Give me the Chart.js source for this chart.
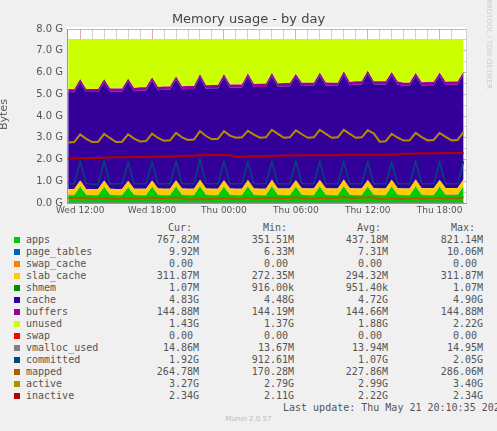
<!DOCTYPE html>
<html><head><meta charset="utf-8">
<script src="https://cdn.jsdelivr.net/npm/chart.js@4"></script>
<style>
body{margin:0;background:#f0f0f0;width:497px;height:431px;overflow:hidden;position:relative;font-family:"DejaVu Sans",sans-serif}
#c{position:absolute;left:0;top:0}
.t{position:absolute;color:#555}
#leg{position:absolute;left:0;top:222px;font-family:"DejaVu Sans Mono",monospace;font-size:10px;color:#555;line-height:12px}
.row{position:relative;height:12px;white-space:pre}
.sw{position:absolute;left:14px;top:3px;width:6px;height:6px}
.nm{position:absolute;left:26px}
.v{position:absolute;text-align:right}
</style></head><body>
<canvas id="c" width="497" height="220"></canvas>
<div class="t" style="left:0;width:497px;top:11px;text-align:center;font-size:13px;color:#444">Memory usage - by day</div>
<div class="t" style="left:-12px;top:108px;font-size:11px;transform:rotate(-90deg)">Bytes</div>
<div class="t" style="left:424px;top:60px;font-size:7px;color:#ccc;transform:rotate(90deg);white-space:nowrap;width:130px">RRDTOOL / TOBI OETIKER</div>
<div id="leg"></div>
<div class="t" style="left:0;width:497px;top:415px;text-align:center;font-size:7px;color:#bbb">Munin 2.0.57</div>
<script>
const hours=[11,11.5,12,12.5,13,13.5,14,14.5,15,15.5,16,16.5,17,17.5,18,18.5,19,19.5,20,20.5,21,21.5,22,22.5,23,23.5,24,24.5,25,25.5,26,26.5,27,27.5,28,28.5,29,29.5,30,30.5,31,31.5,32,32.5,33,33.5,34,34.5,35,35.5,36,36.5,37,37.5,38,38.5,39,39.5,40,40.5,41,41.5,42,42.5,43,43.5,44];
const xTickLabels={12:"Wed 12:00",18:"Wed 18:00",24:"Thu 00:00",30:"Thu 06:00",36:"Thu 12:00",42:"Thu 18:00"};
const apps=[0.37,0.36,0.75,0.37, 0.36,0.36,0.74,0.37, 0.36,0.36,0.72,0.37, 0.36,0.36,0.74,0.37, 0.36,0.36,0.75,0.37, 0.36,0.36,0.76,0.37, 0.36,0.36,0.74,0.37, 0.36,0.36,0.75,0.37, 0.36,0.36,0.76,0.37, 0.36,0.36,0.74,0.37, 0.36,0.36,0.75,0.37, 0.36,0.36,0.76,0.37, 0.36,0.36,0.74,0.37, 0.36,0.36,0.75,0.37, 0.36,0.36,0.76,0.37, 0.36,0.36,0.74,0.37, 0.37,0.37,0.77];
const page_tables=[0.007,0.007,0.009,0.007,0.007,0.007,0.009,0.007,0.007,0.007,0.009,0.007,0.007,0.007,0.009,0.007,0.007,0.007,0.009,0.007,0.007,0.007,0.009,0.007,0.007,0.007,0.009,0.007,0.007,0.007,0.009,0.007,0.007,0.007,0.009,0.007,0.007,0.007,0.009,0.007,0.007,0.007,0.009,0.007,0.007,0.007,0.009,0.007,0.007,0.007,0.009,0.007,0.007,0.007,0.009,0.007,0.007,0.007,0.009,0.007,0.007,0.007,0.009,0.007,0.007,0.007,0.010];
const swap_cache=[0,0,0,0,0,0,0,0,0,0,0,0,0,0,0,0,0,0,0,0,0,0,0,0,0,0,0,0,0,0,0,0,0,0,0,0,0,0,0,0,0,0,0,0,0,0,0,0,0,0,0,0,0,0,0,0,0,0,0,0,0,0,0,0,0,0,0];
const slab_cache=[0.27,0.27,0.28,0.27, 0.28,0.28,0.28,0.28, 0.28,0.28,0.29,0.28, 0.29,0.29,0.29,0.29, 0.29,0.29,0.29,0.29, 0.29,0.29,0.30,0.29, 0.29,0.29,0.30,0.29, 0.29,0.29,0.30,0.29, 0.29,0.29,0.30,0.29, 0.30,0.30,0.30,0.30, 0.30,0.30,0.30,0.30, 0.30,0.30,0.31,0.30, 0.30,0.30,0.31,0.30, 0.30,0.30,0.31,0.30, 0.30,0.30,0.31,0.30, 0.31,0.31,0.31,0.31, 0.31,0.31,0.31];
const shmem=[0.001,0.001,0.001,0.001,0.001,0.001,0.001,0.001,0.001,0.001,0.001,0.001,0.001,0.001,0.001,0.001,0.001,0.001,0.001,0.001,0.001,0.001,0.001,0.001,0.001,0.001,0.001,0.001,0.001,0.001,0.001,0.001,0.001,0.001,0.001,0.001,0.001,0.001,0.001,0.001,0.001,0.001,0.001,0.001,0.001,0.001,0.001,0.001,0.001,0.001,0.001,0.001,0.001,0.001,0.001,0.001,0.001,0.001,0.001,0.001,0.001,0.001,0.001,0.001,0.001,0.001,0.001];
const cache=[4.45,4.45,4.50,4.45, 4.45,4.45,4.52,4.46, 4.47,4.47,4.55,4.48, 4.52,4.52,4.58,4.52, 4.55,4.55,4.62,4.56, 4.58,4.58,4.70,4.60, 4.62,4.62,4.72,4.63, 4.65,4.65,4.75,4.66, 4.68,4.68,4.76,4.68, 4.70,4.70,4.74,4.70, 4.72,4.72,4.78,4.72, 4.72,4.72,4.82,4.74, 4.78,4.78,4.88,4.78, 4.78,4.78,4.80,4.76, 4.72,4.72,4.75,4.73, 4.74,4.74,4.78,4.74, 4.75,4.75,4.80];
const buffers=[0.144,0.144,0.144,0.144,0.144,0.144,0.144,0.144,0.144,0.144,0.145,0.145,0.145,0.145,0.145,0.145,0.145,0.145,0.145,0.145,0.145,0.145,0.145,0.145,0.145,0.145,0.145,0.145,0.145,0.145,0.145,0.145,0.145,0.145,0.145,0.145,0.145,0.145,0.145,0.145,0.145,0.145,0.145,0.145,0.145,0.145,0.145,0.145,0.145,0.145,0.145,0.145,0.145,0.145,0.145,0.145,0.145,0.145,0.145,0.145,0.145,0.145,0.145,0.145,0.145,0.145,0.145];
const unused=[2.26,2.27,1.82,2.25, 2.27,2.27,1.81,2.26, 2.26,2.26,1.80,2.24, 2.17,2.17,1.76,2.16, 2.14,2.14,1.70,2.13, 2.11,2.11,1.59,2.09, 2.07,2.07,1.58,2.06, 2.04,2.04,1.54,2.03, 2.01,2.01,1.53,2.00, 1.98,1.98,1.56,1.98, 1.96,1.96,1.50,1.96, 1.96,1.96,1.46,1.94, 1.90,1.90,1.40,1.90, 1.90,1.90,1.48,1.92, 1.96,1.96,1.54,1.95, 1.93,1.93,1.50,1.93, 1.92,1.92,1.47];
const swap=[0,0,0,0,0,0,0,0,0,0,0,0,0,0,0,0,0,0,0,0,0,0,0,0,0,0,0,0,0,0,0,0,0,0,0,0,0,0,0,0,0,0,0,0,0,0,0,0,0,0,0,0,0,0,0,0,0,0,0,0,0,0,0,0,0,0,0];
const vmalloc_used=[0.014,0.014,0.014,0.014,0.014,0.014,0.014,0.014,0.014,0.014,0.014,0.014,0.014,0.014,0.014,0.014,0.014,0.014,0.014,0.014,0.014,0.014,0.014,0.014,0.014,0.014,0.014,0.014,0.014,0.014,0.014,0.014,0.014,0.014,0.014,0.014,0.014,0.014,0.014,0.014,0.014,0.014,0.014,0.014,0.014,0.014,0.014,0.014,0.014,0.014,0.014,0.014,0.014,0.014,0.014,0.014,0.014,0.014,0.014,0.014,0.014,0.014,0.014,0.014,0.014,0.014,0.015];
const committed=[0.88,0.88,1.90,0.90, 0.86,0.86,1.92,0.88, 0.88,0.88,1.86,0.88, 0.88,0.88,1.88,0.88, 0.88,0.88,1.90,0.88, 0.88,0.88,2.00,0.89, 0.88,0.88,1.90,0.88, 0.88,0.88,1.88,0.88, 0.88,0.88,1.90,0.88, 0.89,0.89,1.92,0.89, 0.88,0.88,1.90,0.88, 0.88,0.88,1.90,0.88, 0.88,0.88,1.88,0.88, 0.88,0.88,1.86,0.88, 0.88,0.88,1.90,0.88, 0.88,0.88,1.88,0.88, 0.88,0.88,1.92];
const mapped=[0.23,0.23,0.25,0.22, 0.20,0.20,0.23,0.20, 0.20,0.20,0.23,0.21, 0.22,0.22,0.25,0.22, 0.22,0.22,0.26,0.22, 0.17,0.17,0.21,0.17, 0.19,0.19,0.23,0.19, 0.20,0.20,0.24,0.20, 0.22,0.22,0.25,0.22, 0.23,0.23,0.26,0.22, 0.20,0.20,0.24,0.21, 0.23,0.23,0.27,0.23, 0.24,0.24,0.28,0.24, 0.18,0.18,0.22,0.18, 0.20,0.20,0.24,0.20, 0.21,0.21,0.24,0.21, 0.22,0.22,0.26];
const active=[2.78,2.80,3.15,2.95, 2.80,2.82,3.18,2.98, 2.80,2.82,3.16,2.96, 2.83,2.85,3.19,2.99, 2.86,2.88,3.22,3.02, 2.90,2.92,3.30,3.08, 2.93,2.95,3.30,3.10, 3.00,3.02,3.32,3.14, 3.00,3.02,3.36,3.18, 3.00,3.02,3.34,3.16, 3.00,3.02,3.36,3.18, 3.00,3.02,3.36,3.18, 3.00,3.02,3.34,3.20, 2.82,2.84,3.18,3.00, 2.87,2.88,3.22,3.03, 2.88,2.90,3.22,3.04, 2.88,2.90,3.27];
const inactive=[2.05,2.05,2.06,2.06, 2.07,2.07,2.08,2.10, 2.10,2.10,2.10,2.11, 2.12,2.12,2.13,2.14, 2.14,2.14,2.15,2.16, 2.17,2.17,2.20,2.21, 2.21,2.21,2.21,2.20, 2.13,2.13,2.14,2.15, 2.15,2.15,2.16,2.17, 2.18,2.18,2.19,2.19, 2.19,2.19,2.19,2.20, 2.20,2.20,2.22,2.22, 2.22,2.22,2.22,2.22, 2.22,2.22,2.23,2.23, 2.27,2.27,2.28,2.29, 2.29,2.29,2.29,2.30, 2.30,2.30,2.30];

const pts=a=>a.map((v,i)=>({x:hours[i],y:v}));
const areas=[["apps",apps,"#00cc00"],["page_tables",page_tables,"#0066b3"],["swap_cache",swap_cache,"#ff8000"],["slab_cache",slab_cache,"#ffcc00"],["shmem",shmem,"#008f00"],["cache",cache,"#330099"],["buffers",buffers,"#990099"],["unused",unused,"#ccff00"],["swap",swap,"#ff0000"]];
const lines=[["vmalloc_used",vmalloc_used,"#808080",1],["committed",committed,"#00487d",1.5],["mapped",mapped,"#b35a00",2],["active",active,"#b38f00",2],["inactive",inactive,"#b30000",2]];
const ds=[];
areas.forEach(([n,a,c],i)=>ds.push({label:n,data:pts(a),backgroundColor:c,borderColor:c,borderWidth:0,fill:i?"-1":"origin",stack:"m",order:2,pointRadius:0,tension:0}));
lines.forEach(([n,a,c,w])=>ds.push({label:n,data:pts(a),borderColor:c,borderWidth:w,fill:false,stack:n,order:1,pointRadius:0,tension:0}));

const bg={id:"bg",beforeDraw(ch){const a=ch.chartArea,x=ch.ctx;x.save();x.fillStyle="#fff";x.fillRect(a.left,a.top-2,a.right-a.left,a.bottom-a.top+2);x.restore();}};
new Chart(document.getElementById("c"),{type:"line",data:{datasets:ds},plugins:[bg],
options:{responsive:false,animation:false,events:[],layout:{padding:{top:29,right:31,left:0,bottom:0}},
plugins:{legend:{display:false},tooltip:{enabled:false},title:{display:false}},
scales:{
x:{type:"linear",min:10.9,max:44.2,border:{display:true,color:"#999"},
 ticks:{stepSize:1,autoSkip:false,maxRotation:0,font:{family:"DejaVu Sans",size:9},color:"#555",padding:2,callback:v=>xTickLabels[v]||""},
 grid:{drawTicks:false,lineWidth:1,color:c=>(c.tick&&c.tick.value%6===0)?"rgba(230,130,130,0.7)":"rgba(200,200,200,0.8)"},
 afterFit:s=>{s.height=17;}},
y:{stacked:true,min:0,max:8,border:{display:true,color:"#999"},
 ticks:{stepSize:0.5,autoSkip:false,font:{family:"DejaVu Sans",size:10},color:"#555",padding:4,callback:v=>Number.isInteger(v)?v.toFixed(1)+" G":""},
 grid:{drawTicks:false,color:c=>(c.tick&&Number.isInteger(c.tick.value))?"rgba(230,130,130,0.7)":"rgba(200,200,200,0.8)"},
 afterFit:s=>{s.width=67;}}
}}});
// dotted grid
Chart.defaults.borderDash=[1,2];

const legRows=[["apps","#00cc00","767.82M","351.51M","437.18M","821.14M"],["page_tables","#0066b3","9.92M","6.33M","7.31M","10.06M"],["swap_cache","#ff8000","0.00 ","0.00 ","0.00 ","0.00 "],["slab_cache","#ffcc00","311.87M","272.35M","294.32M","311.87M"],["shmem","#008f00","1.07M","916.00k","951.40k","1.07M"],["cache","#330099","4.83G","4.48G","4.72G","4.90G"],["buffers","#990099","144.88M","144.19M","144.66M","144.88M"],["unused","#ccff00","1.43G","1.37G","1.88G","2.22G"],["swap","#ff0000","0.00 ","0.00 ","0.00 ","0.00 "],["vmalloc_used","#808080","14.86M","13.67M","13.94M","14.95M"],["committed","#00487d","1.92G","912.61M","1.07G","2.05G"],["mapped","#b35a00","264.78M","170.28M","227.86M","286.06M"],["active","#b38f00","3.27G","2.79G","2.99G","3.40G"],["inactive","#b30000","2.34G","2.11G","2.22G","2.34G"]];
const rights=[199,294,388,483];
let h='<div class="row">'+["Cur:","Min:","Avg:","Max:"].map((t,i)=>`<span class="v" style="left:${rights[i]-80}px;width:${80-(i==3?8:7)}px">${t}</span>`).join("")+'</div>';
legRows.forEach(r=>{h+=`<div class="row"><span class="sw" style="background:${r[1]}"></span><span class="nm">${r[0]}</span>`+r.slice(2).map((t,i)=>`<span class="v" style="left:${rights[i]-80}px;width:80px">${t}</span>`).join("")+'</div>';});
h+='<div class="row"><span class="v" style="left:283px;width:200px">Last update: Thu May 21 20:10:35 2026</span></div>';
document.getElementById("leg").innerHTML=h;
</script></body></html>
